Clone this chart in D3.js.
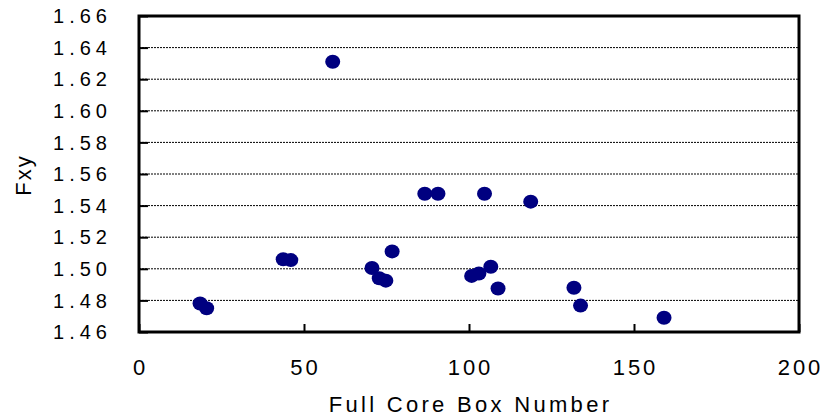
<!DOCTYPE html>
<html>
<head>
<meta charset="utf-8">
<script src="https://cdn.jsdelivr.net/npm/d3@7"></script>
<style>
  html, body { margin: 0; padding: 0; background: #fff; }
  svg { display: block; }
  text { font-family: "Liberation Sans", Arial, sans-serif; fill: #000; }
</style>
</head>
<body>
<svg id="chart" width="825" height="420"></svg>
<script>
// Fxy measured per full core box
const boxNumber = [18.5, 20.5, 43.7, 46, 70.6, 72.8, 74.8, 76.7, 58.7, 86.6, 90.6, 100.8, 103, 104.7, 106.6, 108.8, 118.7, 131.8, 133.8, 159.1];
const fxy       = [1.478, 1.475, 1.506, 1.5055, 1.5005, 1.494, 1.4925, 1.511, 1.631, 1.5475, 1.5475, 1.4955, 1.497, 1.5475, 1.5013, 1.4875, 1.5425, 1.488, 1.4767, 1.469];

const xTicks = [0, 50, 100, 150, 200];
const yTicks = [1.46, 1.48, 1.50, 1.52, 1.54, 1.56, 1.58, 1.60, 1.62, 1.64, 1.66];

const svg = d3.select("#chart");
const plot = { left: 139, right: 799, top: 16, bottom: 332 };

const x = d3.scaleLinear().domain([0, 200]).range([plot.left, plot.right]);
const y = d3.scaleLinear().domain([1.46, 1.66]).range([plot.bottom, plot.top]);

// dashed horizontal gridlines
svg.append("g")
  .selectAll("line")
  .data(yTicks.slice(1, -1))
  .join("line")
  .attr("x1", plot.left).attr("x2", plot.right)
  .attr("y1", d => y(d)).attr("y2", d => y(d))
  .attr("stroke", "#000")
  .attr("stroke-width", 1)
  .attr("stroke-dasharray", "2,1");

// inward tick marks
const yAxis = d3.axisRight(y).tickValues(yTicks).tickSize(9).tickFormat("");
svg.append("g")
  .attr("transform", `translate(${plot.left},0)`)
  .call(yAxis)
  .call(g => g.select(".domain").remove())
  .call(g => g.selectAll(".tick line").attr("stroke", "#000").attr("stroke-width", 2));

const xAxis = d3.axisTop(x).tickValues(xTicks).tickSize(8).tickFormat("");
svg.append("g")
  .attr("transform", `translate(0,${plot.bottom})`)
  .call(xAxis)
  .call(g => g.select(".domain").remove())
  .call(g => g.selectAll(".tick line").attr("stroke", "#000").attr("stroke-width", 2));

// plot frame
svg.append("rect")
  .attr("x", plot.left).attr("y", plot.top)
  .attr("width", plot.right - plot.left)
  .attr("height", plot.bottom - plot.top)
  .attr("fill", "none")
  .attr("stroke", "#000")
  .attr("stroke-width", 3);

// tick labels
svg.append("g")
  .selectAll("text")
  .data(yTicks)
  .join("text")
  .attr("x", 112)
  .attr("y", d => y(d))
  .attr("dy", "0.36em")
  .attr("text-anchor", "end")
  .style("font-size", "20px")
  .style("letter-spacing", "5px")
  .text(d => d3.format(".2f")(d));

svg.append("g")
  .selectAll("text")
  .data(xTicks)
  .join("text")
  .attr("x", d => x(d) + 1.5)
  .attr("y", 375)
  .attr("text-anchor", "middle")
  .style("font-size", "22px")
  .style("letter-spacing", "3px")
  .text(d => d);

// axis titles
svg.append("text")
  .attr("x", (plot.left + plot.right) / 2 + 1.5)
  .attr("y", 412)
  .attr("text-anchor", "middle")
  .style("font-size", "22px")
  .style("letter-spacing", "3.3px")
  .text("Full Core Box Number");

svg.append("text")
  .attr("transform", `translate(31,${(plot.top + plot.bottom) / 2 + 1}) rotate(-90)`)
  .attr("text-anchor", "middle")
  .style("font-size", "22px")
  .style("letter-spacing", "2px")
  .text("Fxy");

// data markers
svg.append("g")
  .selectAll("ellipse")
  .data(boxNumber.map((b, i) => ({ b, f: fxy[i] })))
  .join("ellipse")
  .attr("cx", d => x(d.b))
  .attr("cy", d => y(d.f))
  .attr("rx", 7.5)
  .attr("ry", 7)
  .attr("fill", "#000080");
</script>
</body>
</html>
